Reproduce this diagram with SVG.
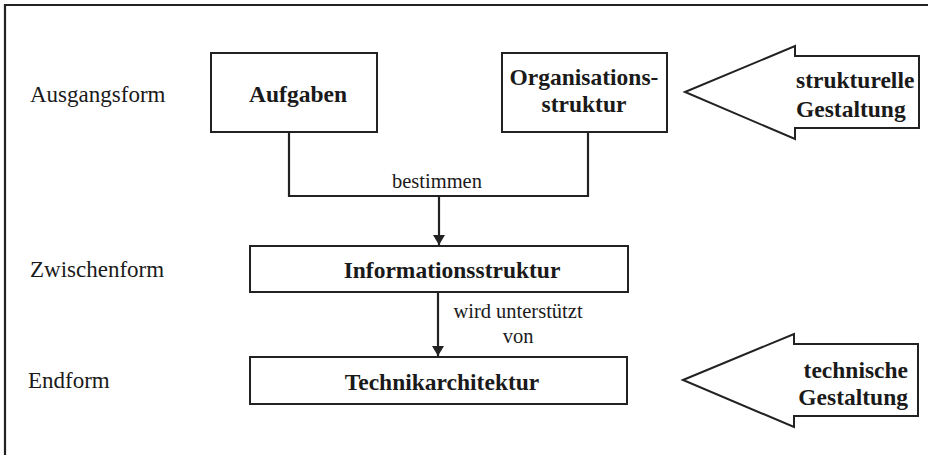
<svg xmlns="http://www.w3.org/2000/svg" width="930" height="455" viewBox="0 0 930 455">
<style>
.box{fill:#fff;stroke:#222;stroke-width:2}
.line{fill:none;stroke:#222;stroke-width:2.2}
.bold{font-family:"Liberation Serif",serif;font-weight:bold;font-size:23.5px;fill:#1a1a1a}
.reg{font-family:"Liberation Serif",serif;font-size:23px;fill:#1a1a1a}
.lab{font-family:"Liberation Serif",serif;font-size:20.5px;fill:#1a1a1a}
</style>
<defs>
<marker id="ah" viewBox="0 0 10 12" refX="10" refY="6" markerWidth="10" markerHeight="12" markerUnits="userSpaceOnUse" orient="auto">
<path d="M0,0 L10,6 L0,12 z" fill="#222"/>
</marker>
</defs>
<g id="frame">
<path class="line" d="M5,455 L5,5 L928,5" stroke-width="1.8"/>
</g>
<g id="labels">
<text class="reg" x="30" y="102">Ausgangsform</text>
<text class="reg" x="30" y="277">Zwischenform</text>
<text class="reg" x="28" y="388">Endform</text>
</g>
<g id="connectors">
<path class="line" d="M289,132 L289,196 L588,196 L588,132"/>
<path class="line" d="M439,196 L439,245" marker-end="url(#ah)"/>
<text class="lab" x="437" y="188" text-anchor="middle">bestimmen</text>
<path class="line" d="M438,292 L438,356" marker-end="url(#ah)"/>
<text class="lab" x="518" y="318" text-anchor="middle">wird unterstützt</text>
<text class="lab" x="518" y="343" text-anchor="middle">von</text>
</g>
<g id="aufgaben">
<rect class="box" x="211" y="53" width="166" height="79"/>
<text class="bold" x="298" y="102" text-anchor="middle">Aufgaben</text>
</g>
<g id="organisationsstruktur">
<rect class="box" x="502" y="53" width="165" height="79"/>
<text class="bold" x="584" y="85" text-anchor="middle">Organisations-</text>
<text class="bold" x="584" y="112" text-anchor="middle">struktur</text>
</g>
<g id="informationsstruktur">
<rect class="box" x="250" y="246" width="378" height="46"/>
<text class="bold" x="452" y="278" text-anchor="middle">Informationsstruktur</text>
</g>
<g id="technikarchitektur">
<rect class="box" x="250" y="357" width="377" height="47"/>
<text class="bold" x="442" y="390" text-anchor="middle">Technikarchitektur</text>
</g>
<g id="strukturelle-gestaltung">
<polygon class="box" points="685,92 795,46 795,56 919,56 919,128 795,128 795,139"/>
<text class="bold" x="796" y="88">strukturelle</text>
<text class="bold" x="796" y="117">Gestaltung</text>
</g>
<g id="technische-gestaltung">
<polygon class="box" points="683,380 794,334 794,344 918,344 918,416 794,416 794,427"/>
<text class="bold" x="908" y="378" text-anchor="end">technische</text>
<text class="bold" x="908" y="405" text-anchor="end">Gestaltung</text>
</g>
</svg>
